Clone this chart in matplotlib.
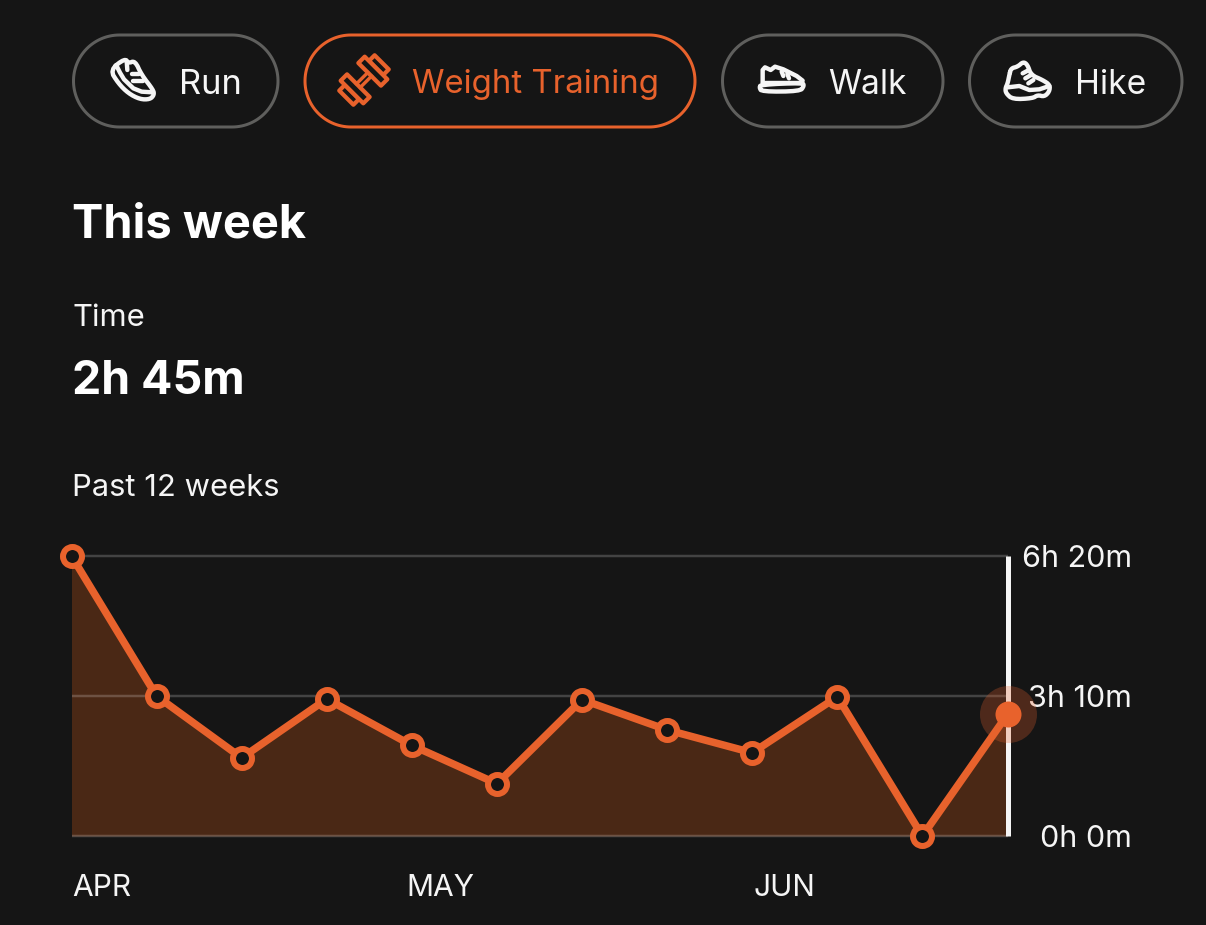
import matplotlib
matplotlib.use("Agg")
import matplotlib.pyplot as plt
import numpy as np
from matplotlib.patches import Polygon
from matplotlib.transforms import Affine2D

# ---------- data ----------
weeks = list(range(12))
minutes = [380, 190, 106, 186, 123, 71, 185, 144, 113, 189, 0, 165]
y_ticks = [0, 190, 380]
y_tick_labels = ["0h 0m", "3h 10m", "6h 20m"]
x_tick_pos = [0.01, 3.93, 8.01]
x_tick_labels = ["APR", "MAY", "JUN"]
pill_labels = ["Run", "Weight Training", "Walk", "Hike"]

BG = "#151515"
OR = "#E8622C"
FILL = "#4A2815"
WH = "#F5F5F5"
GREY = "#5F5F5D"
W, H = 1206, 925
plt.rcParams["font.family"] = ["Inter", "DejaVu Sans"]
PT = 72 / 100

fig = plt.figure(figsize=(W / 100, H / 100), dpi=100, facecolor=BG)

# ---------- page overlay in pixel coordinates ----------
ov = fig.add_axes([0, 0, 1, 1], zorder=0)
ov.set_xlim(0, W)
ov.set_ylim(H, 0)
ov.axis("off")


def pill_outline(x0, x1, y0, y1):
    r = (y1 - y0) / 2
    t = np.linspace(-np.pi / 2, np.pi / 2, 60)
    xr = x1 - r + r * np.cos(t)
    yr = (y0 + y1) / 2 + r * np.sin(t)
    xl = x0 + r - r * np.cos(t[::-1])
    yl = (y0 + y1) / 2 + r * np.sin(t[::-1])
    return np.c_[np.r_[xr, xl], np.r_[yr, yl]]


pills = [(73.5, 278, GREY), (305, 695, OR), (722.5, 943, GREY), (969.5, 1182, GREY)]
text_x = [179, 412, 828, 1075]
text_size = [34.5, 33, 33.5, 33.5]
for (x0, x1, col), tx, fs, lab in zip(pills, text_x, text_size, pill_labels):
    ov.add_patch(Polygon(pill_outline(x0, x1, 35, 127), closed=True, fc="none", ec=col, lw=3 * PT))
    ov.text(tx, 81, lab, color=OR if col == OR else WH, fontsize=fs * PT,
            va="center_baseline", ha="left")


def chaikin(a, n=2):
    for _ in range(n):
        b = np.roll(a, -1, axis=0)
        a = np.column_stack([0.75 * a + 0.25 * b, 0.25 * a + 0.75 * b]).reshape(-1, 2)
    return a


def icon(pts, ox, oy, col=WH, lw=4.4, closed=False):
    a = np.array(pts, float) / 3 + (ox, oy)
    if closed:
        a = chaikin(a)
        a = np.vstack([a, a[0]])
    ov.plot(a[:, 0], a[:, 1], color=col, lw=lw * PT, solid_joinstyle="round", solid_capstyle="round")


# run shoe
o = (100, 50)
icon([(30, 60), (75, 25), (85, 40), (105, 32), (125, 75), (160, 120), (162, 135), (150, 148),
      (120, 148), (85, 130), (55, 100)], *o, closed=True)
icon([(50, 48), (60, 68), (72, 88), (100, 115), (125, 125), (158, 127)], *o)
icon([(80, 33), (82, 60)], *o)
icon([(95, 72), (118, 72)], *o)
icon([(100, 92), (130, 92)], *o)

# dumbbell
def rrect(cx, cy, w, h, ang=-45):
    t = Affine2D().rotate_deg(ang).translate(cx, cy)
    pts = t.transform([(-w / 2, -h / 2), (w / 2, -h / 2), (w / 2, h / 2), (-w / 2, h / 2)])
    ov.add_patch(Polygon(pts, closed=True, fc=BG, ec=OR, lw=4.2 * PT, joinstyle="round"))


c = np.array([364.0, 80.0])
u = np.array([1, -1]) / np.sqrt(2)
v = np.array([1, 1]) / np.sqrt(2) * 2.6
p1, p2 = c - u * 8, c + u * 8
for s in (-1, 1):
    ov.plot([p1[0] + s * v[0], p2[0] + s * v[0]], [p1[1] + s * v[1], p2[1] + s * v[1]],
            color=OR, lw=3.4 * PT)
for d, pw, ph in [(-21, 8, 20), (21, 8, 20), (-12.5, 9, 32), (12.5, 9, 32)]:
    p = c + u * d
    rrect(p[0], p[1], pw, ph)

# walk shoe
o = (750, 50)
icon([(38, 100), (38, 60), (45, 52), (62, 60), (75, 50), (100, 58), (140, 78), (158, 92)], *o)
icon([(38, 100), (155, 100)], *o)
icon([(28, 112), (34, 104), (158, 98), (162, 108), (150, 124), (35, 125)], *o, closed=True)
icon([(95, 65), (100, 78)], *o)
icon([(112, 72), (117, 85)], *o)

# hike boot
o = (996, 50)
icon([(40, 75), (45, 55), (65, 50), (82, 35), (95, 45), (105, 75), (140, 90), (162, 105), (160, 125),
      (145, 140), (125, 135), (110, 145), (50, 148), (30, 130), (28, 115), (35, 100)], *o, closed=True)
icon([(35, 112), (70, 108), (100, 120), (130, 118), (160, 108)], *o)
icon([(80, 70), (95, 62)], *o)
icon([(88, 85), (105, 75)], *o)
icon([(97, 100), (112, 90)], *o)

# headings
ov.text(72, 221, "This week", color="white", fontsize=47 * PT, fontweight="bold",
        va="center_baseline", ha="left")
ov.text(72, 315, "Time", color=WH, fontsize=31 * PT, va="center_baseline", ha="left")
ov.text(72, 377, "2h 45m", color="white", fontsize=46.5 * PT, fontweight="bold",
        va="center_baseline", ha="left")
ov.text(72, 485, "Past 12 weeks", color=WH, fontsize=31 * PT, va="center_baseline", ha="left")

# ---------- chart ----------
L, R, T, B = 71.5, 1007.5, 556.0, 836.0
ax = fig.add_axes([L / W, 1 - B / H, (R - L) / W, (B - T) / H], zorder=2)
ax.patch.set_alpha(0)
ax.set_xlim(0, 11)
ax.set_ylim(0, 380)
for s in ax.spines.values():
    s.set_visible(False)

ax.fill_between(weeks, minutes, 0, color=FILL, lw=0, zorder=1)
for yt in y_ticks:
    ax.axhline(yt, color="white", alpha=0.2, lw=2.5 * PT, zorder=2, clip_on=False,
               solid_capstyle="butt")
ax.axvline(11, color=WH, lw=5 * PT, zorder=3, clip_on=False, solid_capstyle="butt")
ax.plot(weeks, minutes, color=OR, lw=7.5 * PT, zorder=4, clip_on=False, solid_joinstyle="round")
ax.plot(weeks[:-1], minutes[:-1], ls="none", marker="o", ms=19 * PT, mfc=BG, mec=OR,
        mew=6 * PT, zorder=5, clip_on=False)
ax.plot(weeks[-1:], minutes[-1:], ls="none", marker="o", ms=57 * PT, mfc=OR, mec="none",
        alpha=0.27, zorder=5, clip_on=False)
ax.plot(weeks[-1:], minutes[-1:], ls="none", marker="o", ms=26 * PT, mfc=OR, mec="none",
        zorder=6, clip_on=False)

ax.yaxis.tick_right()
ax.set_yticks(y_ticks)
ax.set_yticklabels(y_tick_labels, ha="right", color=WH, fontsize=30.5 * PT)
ax.tick_params(axis="y", length=0, pad=124.5 * PT)
ax.set_xticks(x_tick_pos)
ax.set_xticklabels(x_tick_labels, ha="left", color=WH, fontsize=30 * PT)
ax.tick_params(axis="x", length=0, pad=38 * PT)

fig.savefig("out.png", dpi=100, facecolor=BG)
